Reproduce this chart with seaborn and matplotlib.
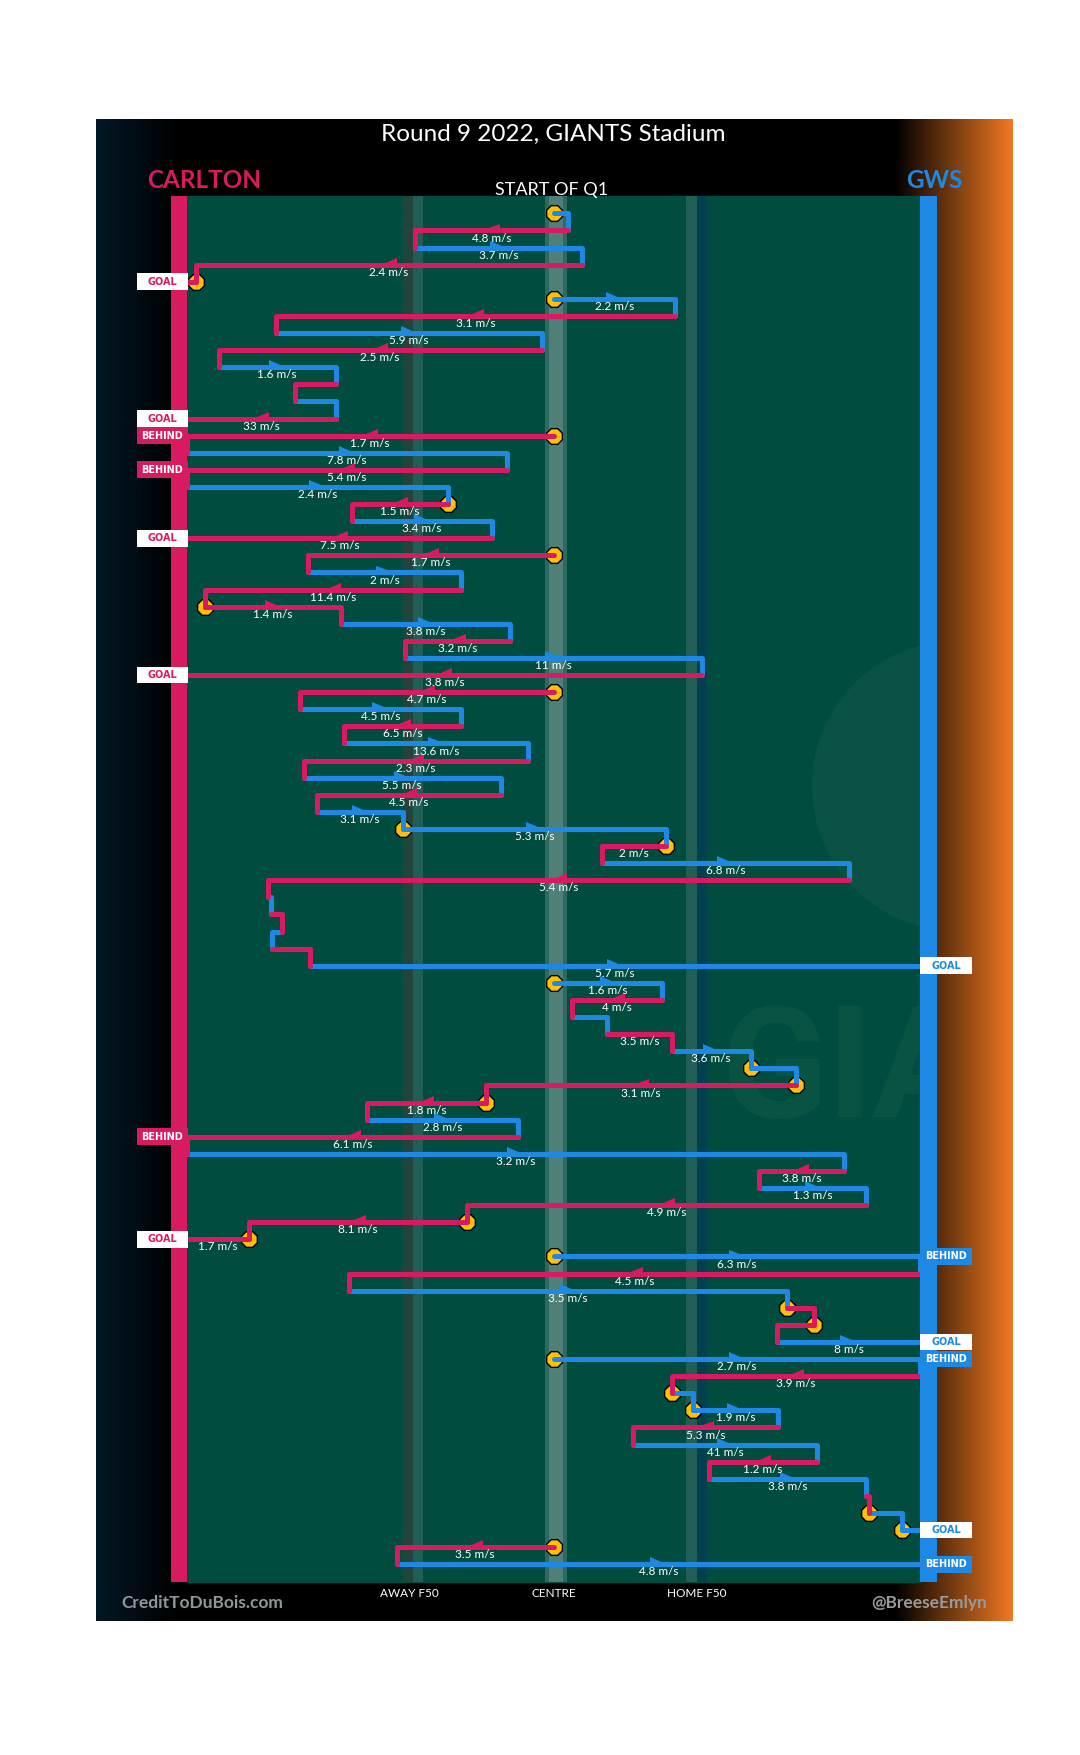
import numpy as np
import pandas as pd
import matplotlib
matplotlib.use('Agg')
from matplotlib import pyplot as plt
from matplotlib.patches import Rectangle, Ellipse
import seaborn as sns

# one row per leg of play, x in % of ground (0 = Carlton goal line, 100 = GWS goal line)
team = ['G', 'C', 'G', 'C', 'C', 'G', 'C', 'G', 'C', 'G',
        'C', 'G', 'C', 'C', 'G', 'C', 'G', 'C', 'G', 'C',
        'C', 'G', 'C', 'C', 'G', 'C', 'G', 'C', 'C', 'G',
        'C', 'G', 'C', 'G', 'C', 'G', 'G', 'C', 'G', 'C',
        'G', 'C', 'G', 'C', 'G', 'G', 'C', 'G', 'C', 'G',
        'G', 'C', 'C', 'G', 'C', 'G', 'C', 'G', 'C', 'C',
        'C', 'G', 'C', 'G', 'C', 'C', 'G', 'G', 'C', 'G',
        'G', 'C', 'G', 'C', 'G', 'C', 'G', 'G', 'C', 'G']
x_start = [50.0, 52.0, 31.1, 53.9, 1.2, 50.0, 66.6, 12.2, 48.4, 4.3,
           20.3, 14.7, 20.3, 50.0, 0.0, 43.6, 0.0, 35.6, 22.5, 41.6,
           50.0, 16.5, 37.4, 2.4, 21.0, 44.1, 29.7, 70.2, 50.0, 15.4,
           37.4, 21.4, 46.5, 15.9, 42.8, 17.7, 29.4, 65.4, 56.6, 90.3,
           11.1, 11.4, 12.9, 11.6, 16.8, 50.0, 64.8, 52.5, 57.3, 66.1,
           76.9, 83.1, 40.8, 24.5, 45.2, 0.0, 89.6, 78.0, 92.7, 38.2,
           8.5, 50.0, 100.0, 22.1, 81.8, 85.5, 80.5, 50.0, 100.0, 66.2,
           69.0, 80.6, 60.9, 86.0, 71.2, 92.7, 93.0, 97.5, 50.0, 28.6]
x_end = [52.0, 31.1, 53.9, 1.2, 0.0, 66.6, 12.2, 48.4, 4.3, 20.3,
         14.7, 20.3, 0.0, 0.0, 43.6, 0.0, 35.6, 22.5, 41.6, 0.0,
         16.5, 37.4, 2.4, 21.0, 44.1, 29.7, 70.2, 0.0, 15.4, 37.4,
         21.4, 46.5, 15.9, 42.8, 17.7, 29.4, 65.4, 56.6, 90.3, 11.1,
         11.4, 12.9, 11.6, 16.8, 100.0, 64.8, 52.5, 57.3, 66.1, 76.9,
         83.1, 40.8, 24.5, 45.2, 0.0, 89.6, 78.0, 92.7, 38.2, 8.5,
         0.0, 100.0, 22.1, 81.8, 85.5, 80.5, 100.0, 100.0, 66.2, 69.0,
         80.6, 60.9, 86.0, 71.2, 92.7, 93.0, 97.5, 100.0, 28.6, 100.0]
speed = [None, 4.8, 3.7, 2.4, None, 2.2, 3.1, 5.9, 2.5, 1.6,
         None, None, 33, 1.7, 7.8, 5.4, 2.4, 1.5, 3.4, 7.5,
         1.7, 2, 11.4, 1.4, 3.8, 3.2, 11, 3.8, 4.7, 4.5,
         6.5, 13.6, 2.3, 5.5, 4.5, 3.1, 5.3, 2, 6.8, 5.4,
         None, None, None, None, 5.7, 1.6, 4, None, 3.5, 3.6,
         None, 3.1, 1.8, 2.8, 6.1, 3.2, 3.8, 1.3, 4.9, 8.1,
         1.7, 6.3, 4.5, 3.5, None, None, 8, 2.7, 3.9, None,
         1.9, 5.3, 41, 1.2, 3.8, None, None, None, 3.5, 4.8]
stoppage_rows = [0, 4, 5, 13, 17, 20, 23, 28, 36, 37, 45, 50, 51, 52,
                 59, 60, 61, 64, 65, 67, 69, 70, 76, 77, 78]
carlton_tag_rows = [4, 12, 13, 15, 19, 27, 54, 60]
carlton_tags = ['GOAL', 'GOAL', 'BEHIND', 'BEHIND', 'GOAL', 'GOAL', 'BEHIND', 'GOAL']
gws_tag_rows = [44, 61, 66, 67, 77, 79]
gws_tags = ['GOAL', 'BEHIND', 'GOAL', 'BEHIND', 'GOAL', 'BEHIND']
zone_labels = ['AWAY F50', 'CENTRE', 'HOME F50']
zone_x = [30.4, 50.1, 69.5]

PINK = '#D81B60'
BLUE = '#1E88E5'
team_colors = {'C': PINK, 'G': BLUE}


def px2x(p):
    return (p - 187) / 7.33


def px2y(p):
    return (p - 213.3) / 17.1


sns.set_theme(style='white')
plt.rcParams['font.family'] = ['Lato', 'DejaVu Sans']

fig = plt.figure(figsize=(10.8, 17.55), dpi=100, facecolor='white')
ax = fig.add_axes([0, 0, 1, 1])
ax.set_xlim(px2x(0), px2x(1080))
ax.set_ylim(px2y(1755), px2y(0))
ax.axis('off')

# panel background with side gradients
cols = np.arange(96, 1013)
grad = np.zeros((2, len(cols), 3))
navy = np.array([2, 24, 38]) / 255
orange = np.array([242, 122, 34]) / 255
for i, p in enumerate(cols):
    if p < 178:
        grad[:, i] = navy * (1 - (p - 96) / 82)
    elif p > 895:
        grad[:, i] = orange * ((p - 895) / (1013 - 895))
ax.imshow(grad, extent=[px2x(96), px2x(1013), px2y(1621), px2y(119)],
          aspect='auto', interpolation='bilinear', zorder=0)

# ground
top, bot = px2y(196), px2y(1582)
field = Rectangle((0, top), 100, bot - top, color='#004D40', zorder=1)
ax.add_patch(field)
for a, b, c in [(403, 413, '#22443A'), (413, 423, '#215E55'), (545, 549, '#2E6A62'),
                (549, 563, '#4E8078'), (563, 567, '#2E6A62'),
                (686, 697, '#215E55'), (697, 707, '#03404F')]:
    ax.add_patch(Rectangle((px2x(a), top), px2x(b) - px2x(a), bot - top, color=c, zorder=1.2, lw=0))

# faint watermark
wm = Ellipse((px2x(957), px2y(786)), 2 * 145 / 7.33, 2 * 145 / 17.1, color='#0A5344', zorder=1.1, lw=0)
ax.add_patch(wm)
wm.set_clip_path(field)
wt = ax.text(px2x(722), px2y(1117), 'GIANTS', fontsize=112, fontweight='bold', color='#095343',
             family=['Roboto', 'DejaVu Sans'], ha='left', va='baseline', zorder=1.1, clip_on=True)
wt.set_clip_path(field)

# goal line bars
ax.add_patch(Rectangle((px2x(171), top), -px2x(171), bot - top, color=PINK, zorder=6, lw=0))
ax.add_patch(Rectangle((100, top), px2x(937) - 100, bot - top, color=BLUE, zorder=6, lw=0))

# legs of play as paths: horizontal leg + drop to next row when the chain continues
n = len(team)
recs = []
for k in range(n):
    pts = [(x_start[k], k), (x_end[k], k)]
    if k + 1 < n and abs(x_start[k + 1] - x_end[k]) < 0.5:
        pts.append((x_end[k], k + 1))
    for j, (px, py) in enumerate(pts):
        recs.append({'leg': k, 'order': j, 'x': px, 'y': py, 'team': team[k]})
paths = pd.DataFrame(recs)

sns.lineplot(data=paths, x='x', y='y', hue='team', units='leg', estimator=None, sort=False,
             palette=team_colors, linewidth=3.6, legend=False, ax=ax, zorder=3,
             solid_capstyle='round', solid_joinstyle='round')

# stoppages
stops = pd.DataFrame({'x': [x_start[k] for k in stoppage_rows], 'y': stoppage_rows})
sns.scatterplot(data=stops, x='x', y='y', marker='8', s=150, color='#FFC107',
                edgecolor='black', linewidth=1, ax=ax, zorder=2.5, legend=False)

# direction flags and speeds
aw, ah = 2.2, 0.4
for k in range(n):
    if speed[k] is None:
        continue
    m = (x_start[k] + x_end[k]) / 2
    d = 1 if x_end[k] > x_start[k] else -1
    if abs(x_end[k] - x_start[k]) > 10:
        ax.fill([m + d * aw / 2, m - d * aw / 2, m - d * aw / 2], [k, k, k - ah],
                color=team_colors[team[k]], zorder=4, lw=0)
    ax.text(m, k + 0.45, f'{speed[k]:g} m/s', ha='center', va='center', color='white',
            fontsize=8.5, zorder=5)

# score tags
for k, t in zip(carlton_tag_rows, carlton_tags):
    fc, tc = ('white', PINK) if t == 'GOAL' else (PINK, 'white')
    ax.add_patch(Rectangle((px2x(137), k - 0.49), px2x(188) - px2x(137), 0.98, color=fc, zorder=7, lw=0))
    ax.text((px2x(137) + px2x(188)) / 2, k, t, ha='center', va='center', color=tc,
            fontsize=7, fontweight='bold', family='DejaVu Sans', zorder=8)
for k, t in zip(gws_tag_rows, gws_tags):
    fc, tc = ('white', BLUE) if t == 'GOAL' else (BLUE, 'white')
    ax.add_patch(Rectangle((100, k - 0.49), px2x(972) - 100, 0.98, color=fc, zorder=7, lw=0))
    ax.text((100 + px2x(972)) / 2, k, t, ha='center', va='center', color=tc,
            fontsize=7, fontweight='bold', family='DejaVu Sans', zorder=8)

# header and footer text
ax.text(px2x(553), px2y(134), 'Round 9 2022, GIANTS Stadium', ha='center', va='center',
        color='white', fontsize=17.5, zorder=9)
ax.text(px2x(204), px2y(180), 'CARLTON', ha='center', va='center', color=PINK,
        fontsize=17.5, fontweight='bold', zorder=9)
ax.text(px2x(934), px2y(180), 'GWS', ha='center', va='center', color=BLUE,
        fontsize=17.5, fontweight='bold', zorder=9)
ax.text(px2x(552), px2y(195), 'START OF Q1', ha='center', va='baseline', color='white',
        fontsize=13, zorder=9)
for lab, zx in zip(zone_labels, zone_x):
    ax.text(zx, px2y(1593), lab, ha='center', va='center', color='white', fontsize=8.5, zorder=9)
ax.text(px2x(121), px2y(1603), 'CreditToDuBois.com', ha='left', va='center', color='#8F9999',
        fontsize=12.5, fontweight='bold', zorder=9)
ax.text(px2x(987), px2y(1603), '@BreeseEmlyn', ha='right', va='center', color='#9A9A9A',
        fontsize=12.5, fontweight='bold', zorder=9)

fig.savefig('out.png', dpi=100, facecolor='white')
